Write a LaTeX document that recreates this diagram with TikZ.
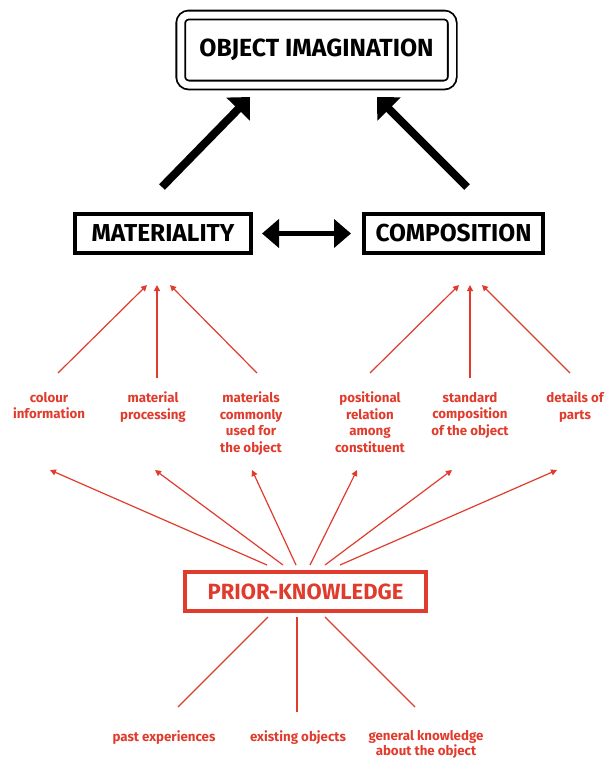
\documentclass[tikz,border=0pt]{standalone}
\usepackage{fontspec}
\setmainfont{Fira Sans}
\usepackage{xcolor}
\usetikzlibrary{arrows.meta,positioning}
\definecolor{pkred}{RGB}{224,60,45}

\begin{document}
\begin{tikzpicture}[x=1pt,y=-1pt,
  blackbox/.style={draw, line width=4pt, inner sep=0pt, minimum height=39pt,
    font=\fontsize{24.5}{28}\selectfont\bfseries},
  redlabel/.style={text=pkred, align=center, anchor=north, inner sep=0pt,
    font=\fontsize{13.3}{16.5}\selectfont\bfseries},
  redarrow/.style={pkred, line width=1.2pt, -{Triangle[length=6pt,width=6pt]}},
  redline/.style={pkred, line width=1.2pt},
  bigarrow/.style={line width=8pt, -{Triangle[length=17pt,width=32pt]}}]
\useasboundingbox (0,0) rectangle (605,758);

\node[draw, double, double distance=7pt, line width=1.8pt, rounded corners=8pt,
  minimum width=271.5pt, minimum height=70pt, inner sep=0pt,
  font=\fontsize{24.8}{28}\selectfont\bfseries] (obj) at (316.5,50) {OBJECT IMAGINATION};

\node[blackbox, minimum width=176pt] (mat) at (163,233.5) {MATERIALITY};
\node[blackbox, minimum width=179pt] (comp) at (453.5,233.5) {COMPOSITION};
\draw [line width=5pt, {Triangle[length=17pt,width=28pt]}-{Triangle[length=17pt,width=28pt]}]
  ([xshift=9pt]mat.east) -- ([xshift=-11pt]comp.west);

\coordinate (matup) at (162,187);
\coordinate (objleft) at (250,97);
\coordinate (compup) at (467,187);
\coordinate (objright) at (377,97);
\draw [bigarrow] (matup) -- (objleft);
\draw [bigarrow] (compup) -- (objright);

% details
\node[redlabel] (colour) at (49,392) {colour\\information};
\node[redlabel] (process) at (153,392) {material\\processing};
\node[redlabel] (common) at (251,392) {materials\\commonly\\used for\\the object};
\node[redlabel] (relation) at (370,392) {positional\\relation\\among\\constituent};
\node[redlabel] (standard) at (470,392) {standard\\composition\\of the object};
\node[redlabel] (parts) at (575,392) {details of\\parts};

\foreach \n/\tx/\ty/\hx in {colour/58/373/147, process/157/378/157, common/257/373/170,
    relation/370/373/459, standard/470/378/470, parts/570/373/482}{
  \coordinate (\n-tail) at (\tx,\ty);
  \coordinate (\n-head) at (\hx,285);
  \draw [redarrow] (\n-tail) -- (\n-head);
}

\node[draw=pkred, line width=4pt, text=pkred, minimum width=241pt, minimum height=39pt,
  inner sep=0pt, font=\fontsize{22}{26}\selectfont\bfseries] (prior) at (305.5,591.5) {PRIOR-KNOWLEDGE};

% fan out of prior knowledge
\foreach \i/\tx/\hx in {1/267/50, 2/283/155, 3/296/252, 4/310/357, 5/325/452, 6/340/557}{
  \coordinate (fan\i) at (\hx,470);
  \draw [redarrow] ([xshift=\tx pt-305.5pt,yshift=5pt]prior.north) -- (fan\i);
}

% sources
\node[redlabel] (past) at (164,731) {past experiences};
\node[redlabel] (exist) at (298,731) {existing objects};
\node[redlabel, font=\fontsize{13.3}{15}\selectfont\bfseries] (general) at (426,730) {general knowledge\\about the object};
\coordinate (pastend) at (178,707);
\coordinate (existend) at (297,712);
\coordinate (generalend) at (415,707);
\draw [redline] ([xshift=-37.5pt,yshift=-4pt]prior.south) -- (pastend);
\draw [redline] ([xshift=-8.5pt,yshift=-4pt]prior.south) -- (existend);
\draw [redline] ([xshift=19.5pt,yshift=-4pt]prior.south) -- (generalend);
\end{tikzpicture}
\end{document}
